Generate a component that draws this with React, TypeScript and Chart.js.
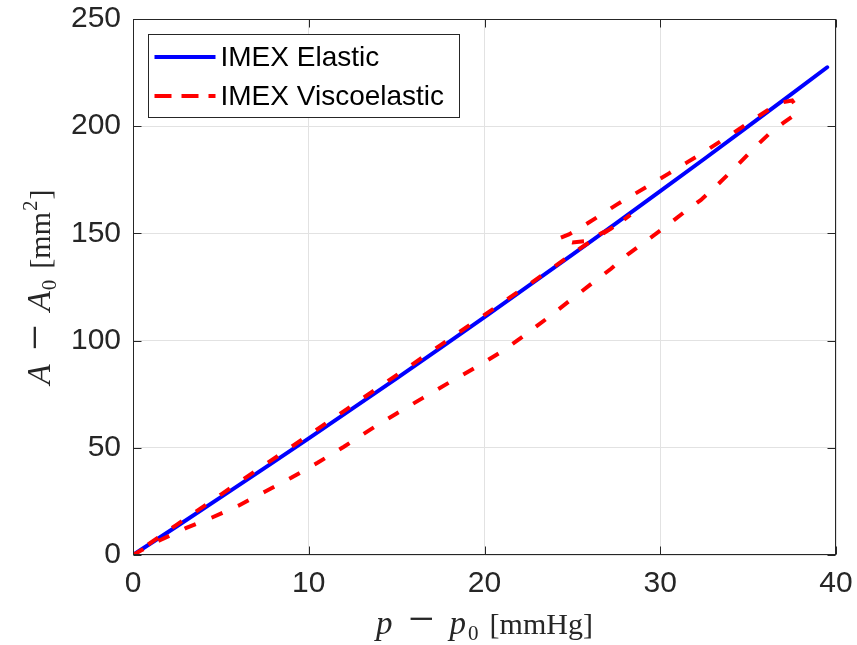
import React, { useEffect, useRef } from "react";
import { Chart, registerables } from "chart.js";

Chart.register(...registerables);

// ---- data ----
const elasticP = [0, 2.5, 5, 7.5, 10, 12.5, 15, 17.5, 20, 22.5, 25, 27.5, 30, 32.5, 35, 37.5, 39.5];
const elasticA = [0, 13.4, 27.0, 40.6, 54.4, 68.4, 82.4, 96.6, 111.0, 125.5, 140.1, 154.8, 169.7, 184.7, 199.9, 215.2, 227.5];

const viscoP = [
  0, 0.5, 1.5, 3, 4.5, 6, 7.5, 9, 10.5, 12, 13.5, 15, 16.5, 18, 19.5, 21, 22.2, 23.5, 24.8, 26, 27.2, 28.2, 29.2,
  30.2, 31.3, 32.3, 33.3, 34.3, 35.3, 36.2, 37.0, 37.6, 37.8, 37.5, 37.0, 36.5, 35.5, 34.5, 33.5, 32.5, 31.5, 30.5,
  29.5, 28.5, 27.5, 26.5, 25.5, 24.8, 24.2, 25.0, 25.9, 26.7, 27.3, 28.3, 27.2, 26.5, 25.5, 24, 22.5, 20, 17.5, 15,
  12.5, 10, 7.5, 5, 2.5, 0,
];
const viscoA = [
  0, 2.3, 6.8, 12.5, 17.5, 23, 29.5, 36, 43, 50.5, 58.5, 66, 73.3, 80.5, 87.5, 95, 102, 110, 118.3, 126, 133.5, 140.5,
  146.5, 152.5, 159.5, 165.5, 173, 181, 189.5, 196.5, 201.5, 205, 208.5, 212, 211.2, 209.5, 204.2, 198.7, 193.3, 188,
  183, 178, 173, 168.2, 163.3, 158, 152.8, 149.5, 147.5, 145.8, 146.5, 150.3, 152.5, 158.6, 152.3, 148.6, 143.4, 134.6,
  126, 112, 97.9, 83.9, 69.9, 55.9, 42.1, 28.2, 14.2, 0,
];

const xTicks = [0, 10, 20, 30, 40];
const yTicks = [0, 50, 100, 150, 200, 250];
const seriesLabels = ["IMEX Elastic", "IMEX Viscoelastic"];

const SANS = '"Liberation Sans", Arial, Helvetica, sans-serif';
const SERIF = '"Liberation Serif", "Times New Roman", serif';
const AXIS_COLOR = "#262626";

type Part = { t: string; it?: boolean; sub?: boolean; sup?: boolean; size?: number; fam?: string; gap?: number };

const xTitleParts: Part[] = [
  { t: "p", it: true, size: 33 },
  { t: "\u2212", size: 46, gap: 16 },
  { t: "p", it: true, size: 33, gap: 15 },
  { t: "0", sub: true, gap: 2 },
  { t: "[mmHg]", size: 30, gap: 11 },
];
const yTitleParts: Part[] = [
  { t: "A", it: true, size: 33 },
  { t: "\u2212", size: 46, gap: 14 },
  { t: "A", it: true, size: 33, gap: 13 },
  { t: "0", sub: true, gap: 1 },
  { t: "[mm", size: 30, gap: 11 },
  { t: "2", sup: true, gap: 1 },
  { t: "]", size: 30, gap: 1 },
];

function partFont(p: Part) {
  const size = p.sub || p.sup ? 21 : p.size || 32;
  return `${p.it ? "italic " : ""}${size}px ${p.fam || SERIF}`;
}

function drawRich(ctx: CanvasRenderingContext2D, parts: Part[], cx: number, cy: number, vertical: boolean) {
  ctx.save();
  let total = 0;
  const widths = parts.map((p) => {
    ctx.font = partFont(p);
    const w = ctx.measureText(p.t).width;
    total += (p.gap || 0) + w;
    return w;
  });
  ctx.translate(cx, cy);
  if (vertical) ctx.rotate(-Math.PI / 2);
  ctx.textAlign = "left";
  ctx.textBaseline = "alphabetic";
  ctx.fillStyle = AXIS_COLOR;
  let x = -total / 2;
  parts.forEach((p, i) => {
    x += p.gap || 0;
    ctx.font = partFont(p);
    const dy = p.sub ? 6 : p.sup ? -13 : 0;
    ctx.fillText(p.t, x, dy);
    x += widths[i];
  });
  ctx.restore();
}

const matlabPlugin = {
  id: "matlabAxes",
  afterDatasetsDraw(chart: any) {
    const { ctx, chartArea: a, scales } = chart;
    ctx.save();
    ctx.strokeStyle = AXIS_COLOR;
    ctx.lineWidth = 1;
    const L = Math.round(a.left) + 0.5;
    const R = Math.round(a.right) - 0.5;
    const T = Math.round(a.top) + 0.5;
    const B = Math.round(a.bottom) - 0.5;
    ctx.strokeRect(L, T, R - L, B - T);
    const tl = 8;
    ctx.beginPath();
    xTicks.forEach((v) => {
      const px = Math.round(scales.x.getPixelForValue(v)) + 0.5;
      ctx.moveTo(px, B);
      ctx.lineTo(px, B - tl);
      ctx.moveTo(px, T);
      ctx.lineTo(px, T + tl);
    });
    yTicks.forEach((v) => {
      const py = Math.round(scales.y.getPixelForValue(v)) + 0.5;
      ctx.moveTo(L, py);
      ctx.lineTo(L + tl, py);
      ctx.moveTo(R, py);
      ctx.lineTo(R - tl, py);
    });
    ctx.stroke();

    // legend
    const lx = Math.round(a.left) + 15.5;
    const ly = Math.round(a.top) + 15.5;
    const lw = 311;
    const lh = 83;
    ctx.fillStyle = "#ffffff";
    ctx.fillRect(lx, ly, lw, lh);
    ctx.strokeStyle = AXIS_COLOR;
    ctx.lineWidth = 1;
    ctx.strokeRect(lx, ly, lw, lh);
    const rows = [ly + 22.5, ly + 61.5];
    chart.data.datasets.forEach((ds: any, i: number) => {
      const y = rows[i];
      ctx.beginPath();
      ctx.strokeStyle = ds.borderColor;
      ctx.lineWidth = ds.borderWidth;
      ctx.lineCap = "butt";
      ctx.setLineDash(i === 1 ? [17, 10] : []);
      ctx.moveTo(lx + 6, y);
      ctx.lineTo(lx + 67, y);
      ctx.stroke();
      ctx.setLineDash([]);
      ctx.fillStyle = "#000000";
      ctx.font = `28px ${SANS}`;
      ctx.textAlign = "left";
      ctx.textBaseline = "middle";
      ctx.fillText(ds.label, lx + 72, y + 1);
    });
    ctx.restore();
  },
  afterDraw(chart: any) {
    const { ctx, chartArea: a } = chart;
    drawRich(ctx, xTitleParts, (a.left + a.right) / 2, 634, false);
    drawRich(ctx, yTitleParts, 50, (a.top + a.bottom) / 2, true);
  },
};

export default function App() {
  const ref = useRef<HTMLCanvasElement>(null);
  useEffect(() => {
    const canvas = ref.current;
    if (!canvas) return;
    const chart = new Chart(canvas, {
      type: "scatter",
      data: {
        datasets: [
          {
            label: seriesLabels[0],
            data: elasticP.map((p, i) => ({ x: p, y: elasticA[i] })),
            showLine: true,
            borderColor: "#0000ff",
            backgroundColor: "#0000ff",
            borderWidth: 4,
            pointRadius: 0,
            borderCapStyle: "round",
            borderJoinStyle: "round",
            order: 1,
          },
          {
            label: seriesLabels[1],
            data: viscoP.map((p, i) => ({ x: p, y: viscoA[i] })),
            showLine: true,
            borderColor: "#ff0000",
            backgroundColor: "#ff0000",
            borderWidth: 4,
            borderDash: [12, 17],
            pointRadius: 0,
            order: 0,
          },
        ],
      } as any,
      options: {
        responsive: false,
        animation: false,
        devicePixelRatio: 1,
        layout: { padding: { top: 19, right: 21, left: 0, bottom: 0 } },
        plugins: { legend: { display: false }, tooltip: { enabled: false } },
        scales: {
          x: {
            type: "linear",
            min: 0,
            max: 40,
            afterBuildTicks: (s: any) => {
              s.ticks = xTicks.map((v) => ({ value: v }));
            },
            afterFit: (s: any) => {
              s.height = 90;
              s.paddingLeft = 0;
              s.paddingRight = 0;
              s.paddingTop = 0;
              s.paddingBottom = 0;
            },
            grid: { color: "#e2e2e2", lineWidth: 1, drawTicks: false },
            border: { display: false },
            ticks: {
              font: { family: SANS, size: 30 },
              color: AXIS_COLOR,
              padding: 11,
              maxRotation: 0,
              autoSkip: false,
            },
          },
          y: {
            type: "linear",
            min: 0,
            max: 250,
            afterBuildTicks: (s: any) => {
              s.ticks = yTicks.map((v) => ({ value: v }));
            },
            afterFit: (s: any) => {
              s.width = 133;
              s.paddingLeft = 0;
              s.paddingRight = 0;
              s.paddingTop = 0;
              s.paddingBottom = 0;
            },
            grid: { color: "#e2e2e2", lineWidth: 1, drawTicks: false },
            border: { display: false },
            ticks: {
              font: { family: SANS, size: 30 },
              color: AXIS_COLOR,
              padding: 12,
              autoSkip: false,
            },
          },
        },
      } as any,
      plugins: [matlabPlugin],
    });
    return () => chart.destroy();
  }, []);
  return (
    <div style={{ position: "fixed", left: 0, top: 0, width: 857, height: 645, background: "#ffffff" }}>
      <canvas ref={ref} width={857} height={645} style={{ display: "block" }} />
    </div>
  );
}
